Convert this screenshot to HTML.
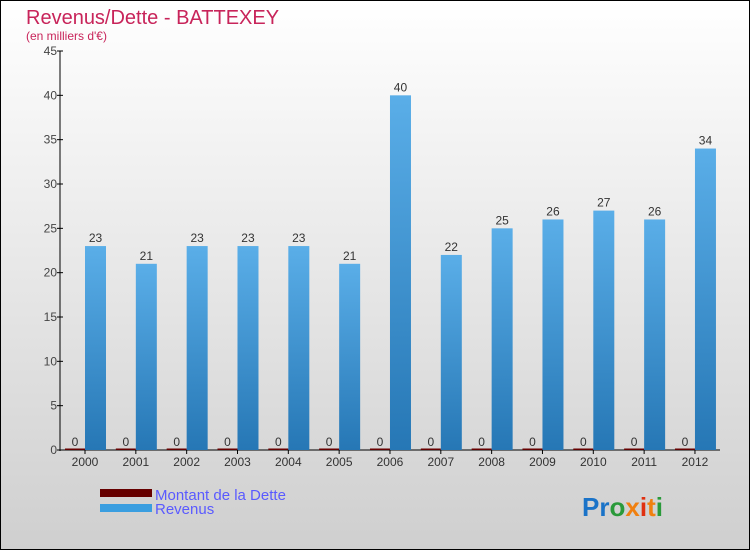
<!DOCTYPE html>
<html><head><meta charset="utf-8"><style>
body{margin:0;width:750px;height:550px;overflow:hidden;font-family:"Liberation Sans",sans-serif}
#wrap{position:absolute;left:0;top:0;width:748px;height:548px;border:1px solid #000;background:linear-gradient(#ffffff,#cfcfcf)}
</style></head><body>
<div id="wrap">
<svg id="svg" width="750" height="550" style="position:absolute;left:-1px;top:-1px">
<defs><linearGradient id="gb" x1="0" y1="0" x2="0" y2="1"><stop offset="0" stop-color="#5aaee8"/><stop offset="1" stop-color="#2677b5"/></linearGradient></defs>
<text x="26" y="24" font-size="20" fill="#c8245a">Revenus/Dette - BATTEXEY</text>
<text x="26" y="40" font-size="12" fill="#c8245a">(en milliers d'€)</text>
<g id="g"></g>
<rect x="100" y="489" width="52" height="8" fill="#660000"/>
<rect x="100" y="504" width="52" height="8" fill="#3a9ee0"/>
<text x="155" y="500" font-size="15" fill="#5a5aff">Montant de la Dette</text>
<text x="155" y="514" font-size="15" fill="#5a5aff">Revenus</text>
<text x="582" y="516" font-size="26" font-weight="bold"><tspan fill="#1a73c8">Pr</tspan><tspan fill="#2a9a3a">o</tspan><tspan fill="#f08010">x</tspan><tspan fill="#e03010">i</tspan><tspan fill="#f08010">t</tspan><tspan fill="#2a9a3a">i</tspan></text>
</svg></div>
<script>
const years=["2000","2001","2002","2003","2004","2005","2006","2007","2008","2009","2010","2011","2012"];
const revenus=[23,21,23,23,23,21,40,22,25,26,27,26,34];
const dette=[0,0,0,0,0,0,0,0,0,0,0,0,0];
const yTicks=[0,5,10,15,20,25,30,35,40,45];
const NS="http://www.w3.org/2000/svg",g=document.getElementById('g');
const y=v=>450-v*(399/45), cx=i=>85+i*50.83;
function mk(t,a,txt){const e=document.createElementNS(NS,t);for(const k in a)e.setAttribute(k,a[k]);if(txt!==undefined)e.textContent=txt;g.appendChild(e);return e;}
let e=mk('line',{x1:60,y1:51,x2:60,y2:451,stroke:'#000'});

e=mk('line',{x1:60,y1:450,x2:720,y2:450,stroke:'#000'});

yTicks.forEach(t=>{
 e=mk('line',{x1:57,y1:y(t),x2:63,y2:y(t),stroke:'#000'});
 
 e=mk('text',{x:57,y:y(t)+4,'font-size':12,fill:'#444','text-anchor':'end'},t);
 
});
years.forEach((yr,i)=>{
 const c=cx(i);
 e=mk('line',{x1:c,y1:450,x2:c,y2:454,stroke:'#000'});
 
 e=mk('text',{x:c,y:466,'font-size':12,fill:'#333','text-anchor':'middle'},yr);
 
 const dh=Math.max(1.5,450-y(dette[i]));
 e=mk('rect',{x:c-20,y:450-dh,width:20,height:dh,fill:'#660000'});
 
 e=mk('text',{x:c-10,y:y(dette[i])-4,'font-size':12,fill:'#333','text-anchor':'middle'},dette[i]);
 
 e=mk('rect',{x:c,y:y(revenus[i]),width:21,height:450-y(revenus[i]),fill:'url(#gb)'});
 
 e=mk('text',{x:c+10.5,y:y(revenus[i])-4,'font-size':12,fill:'#333','text-anchor':'middle'},revenus[i]);
 
});
</script></body></html>
